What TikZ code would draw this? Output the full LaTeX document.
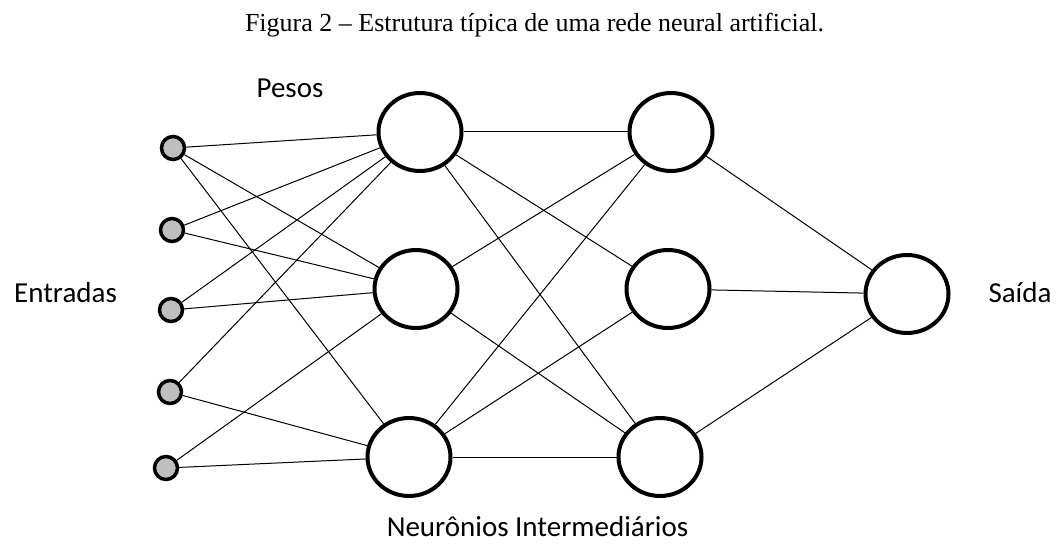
\documentclass[tikz,border=0pt]{standalone}
\usepackage{fontspec}
\setmainfont{Liberation Serif}
\newfontfamily\rotulo{Carlito}
\usetikzlibrary{shapes.geometric}

\begin{document}
\begin{tikzpicture}[x=1pt, y=-1pt,
	entrada/.style={circle, draw, fill=gray!50, line width=3.5pt, minimum size=23pt, inner sep=0pt},
	neuronio/.style={ellipse, draw, line width=4pt, minimum width=83pt, minimum height=78pt, inner sep=0pt},
	texto/.style={font=\rotulo\fontsize{29}{34}\selectfont, anchor=base, inner sep=0pt},
	peso/.style={line width=1pt}]

\useasboundingbox (0,0) rectangle (1059,545);

\node[anchor=base, inner sep=0pt, font=\fontsize{26}{30}\selectfont] (titulo) at (534.5,32) {Figura 2 – Estrutura típica de uma rede neural artificial.};

% entradas
\node[entrada] (i1) at (173,148) {};
\node[entrada] (i2) at (172,230) {};
\node[entrada] (i3) at (171,310) {};
\node[entrada] (i4) at (170,392) {};
\node[entrada] (i5) at (166,468) {};

% neuronios intermediarios
\node[neuronio] (h1) at (420,132) {};
\node[neuronio] (h2) at (416,289) {};
\node[neuronio] (h3) at (409,457) {};
\node[neuronio] (g1) at (671,132) {};
\node[neuronio] (g2) at (668,289) {};
\node[neuronio] (g3) at (660,457) {};

% saida
\node[neuronio] (o) at (907,294) {};

\node[texto] (pesos) at (290,98) {Pesos};
\node[texto] (entradas) at (65.5,302) {Entradas};
\node[texto] (saida) at (1020,302) {Saída};
\node[texto] (intermed) at (537.5,536) {Neurônios Intermediários};

\path[peso] (i1) edge (h1) edge (h2) edge (h3)
	(i2) edge (h1) edge (h2)
	(i3) edge (h1) edge (h2)
	(i4) edge (h1) edge (h3)
	(i5) edge (h2) edge (h3);
\path[peso] (h1) edge (g1) edge (g2) edge (g3)
	(h2) edge (g1) edge (g3)
	(h3) edge (g1) edge (g2) edge (g3);
\path[peso] (g1) edge (o) (g2) edge (o) (g3) edge (o);
\end{tikzpicture}
\end{document}
